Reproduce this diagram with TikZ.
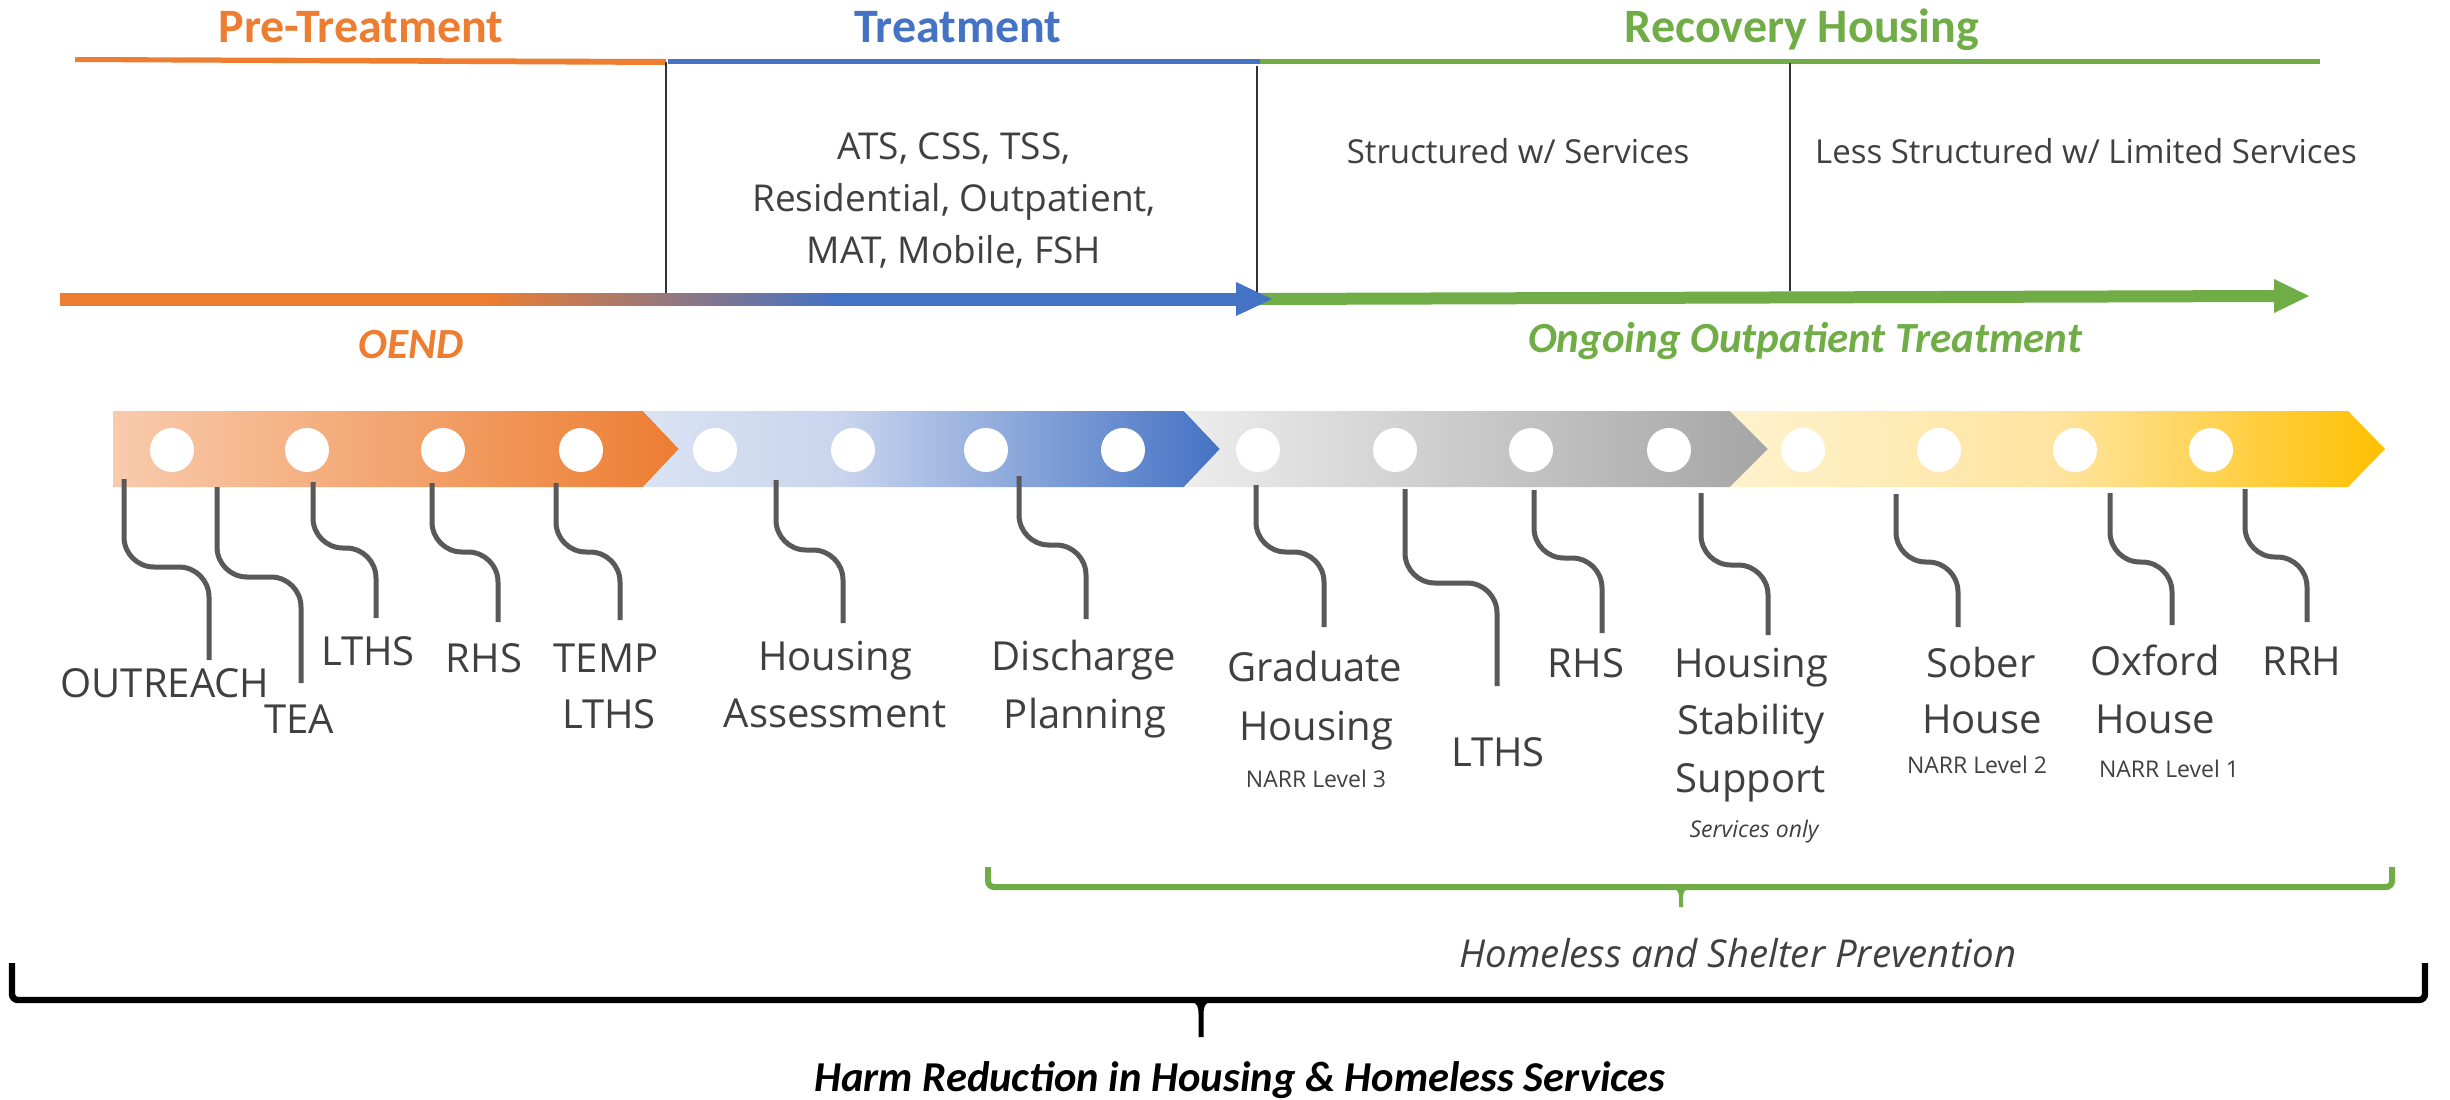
\documentclass[tikz,border=0pt]{standalone}
\usepackage{fontspec}
\setmainfont{Open Sans}
\newfontfamily\calfont{Carlito}
\newcommand\myfs[1]{\fontsize{#1pt}{#1pt}\selectfont}
\definecolor{oDark}{HTML}{ED7D31}
\definecolor{oLight}{HTML}{F8CBAD}
\definecolor{bDark}{HTML}{4472C4}
\definecolor{bLight}{HTML}{DAE3F3}
\definecolor{bMid}{HTML}{C9D5EE}
\definecolor{gDark}{HTML}{A5A5A5}
\definecolor{gLight}{HTML}{EDEDED}
\definecolor{yDark}{HTML}{FFC000}
\definecolor{yLight}{HTML}{FFF2CC}
\definecolor{yMid}{HTML}{FFE4A0}
\definecolor{grn}{HTML}{70AD47}
\definecolor{txt}{HTML}{404040}
\definecolor{lnk}{HTML}{595959}
\pgfdeclarehorizontalshading{orgband}{100bp}{color(0bp)=(oLight); color(25bp)=(oLight); color(75bp)=(oDark); color(100bp)=(oDark)}
\pgfdeclarehorizontalshading{bluband}{100bp}{color(0bp)=(bLight); color(25bp)=(bLight); color(42bp)=(bMid); color(75bp)=(bDark); color(100bp)=(bDark)}
\pgfdeclarehorizontalshading{gryband}{100bp}{color(0bp)=(gLight); color(25bp)=(gLight); color(75bp)=(gDark); color(100bp)=(gDark)}
\pgfdeclarehorizontalshading{ylwband}{100bp}{color(0bp)=(yLight); color(25bp)=(yLight); color(50bp)=(yMid); color(75bp)=(yDark); color(100bp)=(yDark)}
\pgfdeclarehorizontalshading{arrowgrad}{100bp}{color(0bp)=(oDark); color(25bp)=(oDark); color(43bp)=(oDark); color(58bp)=(bDark); color(75bp)=(bDark); color(100bp)=(bDark)}
\tikzset{
  lbl/.style={text=txt, font=\myfs{20}, inner sep=0pt, anchor=base},
  smalllbl/.style={text=txt, font=\myfs{11.5}, inner sep=0pt, anchor=base},
  conn/.style={draw=lnk, line width=2.5pt, rounded corners=15pt},
  dot/.style={circle, fill=white, minimum size=22pt, inner sep=0pt},
  vline/.style={draw=black!80, line width=1pt},
  head/.style={font=\calfont\bfseries\myfs{24}, inner sep=0pt, anchor=base},
  subhead/.style={font=\calfont\bfseries\itshape\myfs{21.5}, inner sep=0pt, anchor=base},
  listtxt/.style={text=txt, font=\myfs{18.5}, inner sep=0pt, anchor=base},
  structtxt/.style={text=txt, font=\myfs{16.5}, inner sep=0pt, anchor=base}
}
\newcommand\connector[6]{%
  \coordinate (#1-t) at (#2,#3);
  \coordinate (#1-b) at (#5,#6);
  \draw[conn] (#1-t) -- (#2,#4) -- (#5,#4) -- (#1-b);}
\begin{document}
\begin{tikzpicture}[x=0.5pt,y=-0.5pt]
\useasboundingbox[fill=white] (0,0) rectangle (2450,1099);

% ---------- headers ----------
\node[head, text=oDark] (hpre) at (361,42) {Pre-Treatment};
\node[head, text=bDark] (htr) at (958,42) {Treatment};
\node[head, text=grn] (hrec) at (1802,42) {Recovery Housing};

% phase lines
\fill[oDark] (75,57) -- (666,59) -- (666,65) -- (75,62) -- cycle;
\fill[bDark] (668,59) rectangle (1260,64);
\fill[grn] (1260,59) rectangle (2320,64);

% vertical separators
\coordinate (v1t) at (666,62);  \coordinate (v1b) at (666,293);
\coordinate (v2t) at (1257,66); \coordinate (v2b) at (1257,293);
\coordinate (v3t) at (1790,63); \coordinate (v3b) at (1790,291);
\draw[vline] (v1t) -- (v1b);
\draw[vline] (v2t) -- (v2b);
\draw[vline] (v3t) -- (v3b);

% treatment list
\node[listtxt] (tl1) at (954,159) {ATS, CSS, TSS,};
\node[listtxt] (tl2) at (954,211) {Residential, Outpatient,};
\node[listtxt] (tl3) at (954,263) {MAT, Mobile, FSH};

\node[structtxt] (st1) at (1518,163) {Structured w/ Services};
\node[structtxt] (st2) at (2086,163) {Less Structured w/ Limited Services};

% ---------- timeline arrows ----------
\coordinate (gaS) at (1258,299);
\coordinate (gaE) at (2309,296);
\fill[grn] (1258,293) -- (2274,290) -- (2274,279) -- (gaE) -- (2274,313) -- (2274,302) -- (1258,305) -- cycle;
\coordinate (oaS) at (60,299);
\coordinate (oaE) at (1272,299);
\shade[shading=arrowgrad] (60,293) rectangle (1240,305);
\fill[bDark] (1236,282) -- (oaE) -- (1236,316) -- cycle;

\node[subhead, text=oDark] (oend) at (411,358) {OEND};
\node[subhead, text=grn] (oot) at (1805,352) {Ongoing Outpatient Treatment};

% ---------- chevron band ----------
\shade[shading=orgband] (113,411) -- (643,411) -- (679,449) -- (643,487) -- (113,487) -- cycle;
\shade[shading=bluband] (643,411) -- (1184,411) -- (1220,449) -- (1184,487) -- (643,487) -- (679,449) -- cycle;
\shade[shading=gryband] (1184,411) -- (1730,411) -- (1768,449) -- (1730,487) -- (1184,487) -- (1220,449) -- cycle;
\shade[shading=ylwband] (1730,411) -- (2348,411) -- (2385,449) -- (2348,487) -- (1730,487) -- (1768,449) -- cycle;

\foreach \xx [count=\i] in {172,307,443,581,715,853,986,1123,1258,1395,1531,1669,1803,1939,2075,2211}
  \node[dot] (dot\i) at (\xx,450) {};

% ---------- connectors ----------
\connector{c1}{124}{479}{567}{209}{660}
\connector{c2}{217}{487}{577}{301}{683}
\connector{c3}{313}{482}{548}{376}{618}
\connector{c4}{432}{483}{552}{498}{622}
\connector{c5}{556}{483}{552}{620}{620}
\connector{c6}{776}{480}{550}{843}{623}
\connector{c7}{1019}{476}{545}{1086}{619}
\connector{c8}{1256}{485}{552}{1324}{627}
\connector{c9}{1405}{489}{583}{1497}{686}
\connector{c10}{1534}{490}{558}{1602}{633}
\connector{c11}{1701}{493}{565}{1768}{635}
\connector{c12}{1896}{494}{562}{1958}{627}
\connector{c13}{2110}{493}{562}{2172}{625}
\connector{c14}{2245}{489}{557}{2307}{622}

% ---------- labels ----------
\node[lbl] (l1) at (165,697) {OUTREACH};
\node[lbl] (l2) at (299,733) {TEA};
\node[lbl] (l3) at (368,665) {LTHS};
\node[lbl] (l4) at (484,672) {RHS};
\node[lbl] (l5a) at (606,672) {TEMP};
\node[lbl] (l5b) at (609,728) {LTHS};
\node[lbl] (l6a) at (835,670) {Housing};
\node[lbl] (l6b) at (835,727) {Assessment};
\node[lbl] (l7a) at (1084,670) {Discharge};
\node[lbl] (l7b) at (1085,728) {Planning};
\node[lbl] (l8a) at (1315,681) {Graduate};
\node[lbl] (l8b) at (1316,740) {Housing};
\node[smalllbl] (l8c) at (1316,787) {NARR Level 3};
\node[lbl] (l9) at (1498,766) {LTHS};
\node[lbl] (l10) at (1586,677) {RHS};
\node[lbl] (l11a) at (1751,677) {Housing};
\node[lbl] (l11b) at (1751,734) {Stability};
\node[lbl] (l11c) at (1751,792) {Support};
\node[smalllbl, font=\itshape\myfs{11.5}] (l11d) at (1754,837) {Services only};
\node[lbl] (l12a) at (1981,677) {Sober};
\node[lbl] (l12b) at (1982,733) {House};
\node[smalllbl] (l12c) at (1977,773) {NARR Level 2};
\node[lbl] (l13a) at (2155,675) {Oxford};
\node[lbl] (l13b) at (2155,733) {House};
\node[smalllbl] (l13c) at (2169,777) {NARR Level 1};
\node[lbl] (l14) at (2302,675) {RRH};

% ---------- brackets ----------
\coordinate (gbL) at (988,867);
\coordinate (gbR) at (2392,867);
\coordinate (gbT) at (1681,889);
\coordinate (gbTip) at (1681,907);
\draw[grn, line width=3pt, rounded corners=3pt] (gbL) -- (988,887) -- (2392,887) -- (gbR);
\fill[grn] (1674,889) .. controls (1678,890) and (1679,893) .. (1679,898) -- (1679,907) -- (1683,907) -- (1683,898) .. controls (1683,893) and (1684,890) .. (1688,889) -- cycle;
\node[text=txt, font=\itshape\myfs{19.2}, inner sep=0pt, anchor=base] (hsp) at (1738,967) {Homeless and Shelter Prevention};

\coordinate (kbL) at (12,963);
\coordinate (kbR) at (2425,963);
\coordinate (kbT) at (1201,1002);
\coordinate (kbTip) at (1201,1037);
\draw[black, line width=3.2pt, rounded corners=3pt] (kbL) -- (12,1000) -- (2425,1000) -- (kbR);
\fill[black] (1192,1002) .. controls (1197,1003) and (1198.5,1007) .. (1198.5,1014) -- (1198.5,1037) -- (1203.5,1037) -- (1203.5,1014) .. controls (1203.5,1007) and (1205,1003) .. (1210,1002) -- cycle;
\node[font=\calfont\bfseries\itshape\myfs{21.3}, inner sep=0pt, anchor=base] (harm) at (1240,1091) {Harm Reduction in Housing \& Homeless Services};
\end{tikzpicture}
\end{document}
